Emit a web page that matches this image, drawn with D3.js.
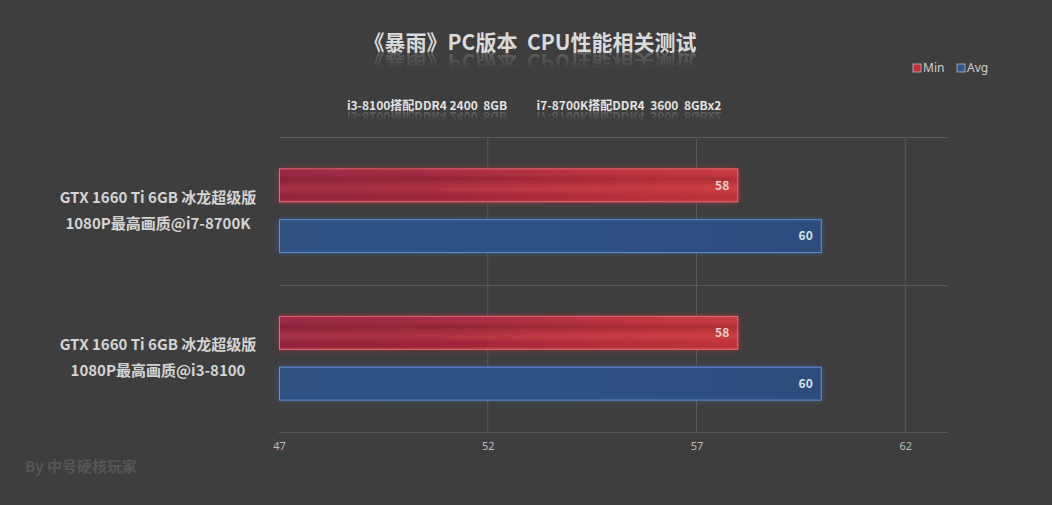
<!DOCTYPE html>
<html><head><meta charset="utf-8">
<script src="https://cdn.jsdelivr.net/npm/d3@7"></script>
<style>
html,body{margin:0;padding:0;background:#3e3e3e;}
svg{display:block;font-family:"Noto Sans CJK SC","Noto Sans",sans-serif;}
text{white-space:pre;}
</style></head>
<body>
<svg id="c" width="1052" height="505"></svg>
<script>
const categories = ["GTX 1660 Ti 6GB 冰龙超级版\n1080P最高画质@i7-8700K", "GTX 1660 Ti 6GB 冰龙超级版\n1080P最高画质@i3-8100"];
const seriesNames = ["Min", "Avg"];
const minValues = [58, 58];
const avgValues = [60, 60];
const xTicks = [47, 52, 57, 62];
const subtitles = ["i3-8100搭配DDR4 2400  8GB", "i7-8700K搭配DDR4  3600  8GBx2"];
const titleText = "《暴雨》PC版本  CPU性能相关测试";
const watermark = "By 中号硬核玩家";

const svg = d3.select("#c");
const W = 1052, H = 505;
const m = {left: 279, right: 105, top: 137, bottom: 73};
svg.append("rect").attr("width", W).attr("height", H).attr("fill", "#3e3e3e");

const defs = svg.append("defs");
const rg = defs.append("linearGradient").attr("id", "redG").attr("x1", 0).attr("x2", 1).attr("y1", 0).attr("y2", 0);
[["0%", "#9a2542"], ["35%", "#a5273f"], ["55%", "#b42c3f"], ["80%", "#c2323d"], ["100%", "#c8363c"]].forEach(s => rg.append("stop").attr("offset", s[0]).attr("stop-color", s[1]));
const rv = defs.append("linearGradient").attr("id", "redV").attr("x1", 0).attr("x2", 0).attr("y1", 0).attr("y2", 1);
[["0%", "#ffffff", 0.0], ["30%", "#000000", 0.12], ["60%", "#ff9070", 0.12], ["85%", "#000000", 0.05], ["100%", "#ff8060", 0.25]].forEach(s => rv.append("stop").attr("offset", s[0]).attr("stop-color", s[1]).attr("stop-opacity", s[2]));
const bg = defs.append("linearGradient").attr("id", "blueG").attr("x1", 0).attr("x2", 1).attr("y1", 0).attr("y2", 0);
[["0%", "#2f5283"], ["50%", "#2e5185"], ["100%", "#2c4c7c"]].forEach(s => bg.append("stop").attr("offset", s[0]).attr("stop-color", s[1]));
const glowR = defs.append("filter").attr("id", "glowR").attr("x", "-5%").attr("y", "-40%").attr("width", "110%").attr("height", "180%");
glowR.append("feGaussianBlur").attr("stdDeviation", 3);
const rf = defs.append("linearGradient").attr("id", "fade").attr("x1", 0).attr("x2", 0).attr("y1", 0).attr("y2", 1);
rf.append("stop").attr("offset", "0%").attr("stop-color", "#fff").attr("stop-opacity", 0.3);
rf.append("stop").attr("offset", "70%").attr("stop-color", "#fff").attr("stop-opacity", 0);
defs.append("mask").attr("id", "fadeMask").attr("maskContentUnits", "objectBoundingBox")
  .append("rect").attr("width", 1).attr("height", 1).attr("fill", "url(#fade)");

const x = d3.scaleLinear().domain([47, 63]).range([m.left, W - m.right]);
const y = d3.scaleBand().domain(categories).range([m.top, H - m.bottom]);
const ys = d3.scaleBand().domain(seriesNames).range([0, y.bandwidth()]).paddingInner(0.333).paddingOuter(0.618);

const g = svg.append("g");
g.selectAll("line.v").data(xTicks.slice(1)).join("line")
  .attr("x1", d => x(d)).attr("x2", d => x(d)).attr("y1", m.top).attr("y2", H - m.bottom)
  .attr("stroke", "#5a5a5a").attr("stroke-width", 1);
const hLines = [m.top, ...categories.map(c => y(c) + y.bandwidth())];
g.selectAll("line.h").data(hLines).join("line")
  .attr("x1", m.left).attr("x2", x(63)).attr("y1", d => Math.round(d) + 0.5).attr("y2", d => Math.round(d) + 0.5)
  .attr("stroke", "#5a5a5a").attr("stroke-width", 1);

const xAxis = d3.axisBottom(x).tickValues(xTicks).tickSize(0).tickPadding(10);
const ax = svg.append("g").attr("transform", `translate(0,${H - m.bottom})`).call(xAxis);
ax.select(".domain").remove();
ax.selectAll("text").attr("fill", "#bdbdbd").attr("font-size", 11).attr("font-family", "'Noto Sans','DejaVu Sans',sans-serif");

const rows = [];
categories.forEach((c, i) => {
  rows.push({cat: c, s: "Min", v: minValues[i]});
  rows.push({cat: c, s: "Avg", v: avgValues[i]});
});
const bars = svg.append("g");
rows.forEach(d => {
  const by = y(d.cat) + ys(d.s), bh = ys.bandwidth(), bx = x(47), bw = x(d.v) - x(47);
  const red = d.s === "Min";
  bars.append("rect").attr("x", bx).attr("y", by).attr("width", bw).attr("height", bh)
    .attr("fill", red ? "#d03040" : "#3a6cb0").attr("opacity", 0.55).attr("filter", "url(#glowR)");
  bars.append("rect").attr("x", bx).attr("y", by).attr("width", bw).attr("height", bh)
    .attr("fill", red ? "url(#redG)" : "url(#blueG)");
  if (red) {
    bars.append("rect").attr("x", bx).attr("y", by).attr("width", bw).attr("height", bh).attr("fill", "url(#redV)");
    [[0.25, 0.55, 0.42, 0.12], [0.35, 0.7, 0.62, 0.18], [0.05, 0.3, 0.3, 0.08]].forEach(s => {
      bars.append("rect").attr("x", bx + bw * s[0]).attr("y", by + bh * s[2]).attr("width", bw * (s[1] - s[0])).attr("height", 2)
        .attr("fill", "#ff8a70").attr("opacity", s[3]).attr("filter", "url(#glowR)");
    });
  }
  bars.append("rect").attr("x", bx + 0.5).attr("y", by + 0.5).attr("width", bw - 1).attr("height", bh - 1)
    .attr("fill", "none").attr("stroke", red ? "#e06a72" : "#5d8fd2").attr("stroke-width", 1);
  bars.append("text").attr("x", x(d.v) - 9).attr("y", by + bh / 2).attr("dy", "0.36em")
    .attr("text-anchor", "end").attr("font-size", 12).attr("font-weight", "bold")
    .attr("fill", red ? "#ecd0d0" : "#d8e0ea").text(d.v);
});

categories.forEach(c => {
  const lines = c.split("\n");
  const cy = y(c) + y.bandwidth() / 2 - 0.5;
  lines.forEach((t, i) => {
    svg.append("text").attr("x", 158).attr("y", cy + (i - 0.5) * 26).attr("dy", "0.35em")
      .attr("text-anchor", "middle").attr("font-size", 15).attr("font-weight", "bold")
      .attr("fill", "#d4d4d4").text(t);
  });
});

function reflected(txt, cx, cyBase, size, color, refOff) {
  svg.append("text").attr("x", cx).attr("y", cyBase).attr("text-anchor", "middle")
    .attr("font-size", size).attr("font-weight", "bold").attr("fill", color).text(txt);
  const rgp = svg.append("g").attr("mask", "url(#fadeMask)");
  rgp.append("text").attr("x", cx).attr("y", -(cyBase + refOff)).attr("transform", "scale(1,-1)")
    .attr("text-anchor", "middle").attr("font-size", size).attr("font-weight", "bold").attr("fill", color).text(txt);
}
reflected(titleText, 530, 50, 21, "#dadada", 4);
reflected(subtitles[0], 427, 110, 12, "#e2e2e2", 2);
reflected(subtitles[1], 629, 110, 12, "#e2e2e2", 2);

const leg = svg.append("g").attr("transform", "translate(913,63)");
[["Min", "#c0303c", 0], ["Avg", "#2f5790", 44]].forEach(l => {
  leg.append("rect").attr("x", l[2]).attr("y", 1).attr("width", 8).attr("height", 8)
    .attr("fill", l[1]).attr("stroke", "#bbbbbb").attr("stroke-width", 0.8);
  leg.append("text").attr("x", l[2] + 10).attr("y", 5).attr("dy", "0.36em").attr("font-size", 12)
    .attr("fill", "#cfcfcf").attr("font-family", "'Noto Sans','DejaVu Sans',sans-serif").text(l[0]);
});

svg.append("text").attr("x", 25).attr("y", 472).attr("font-size", 15).attr("font-weight", "bold")
  .attr("fill", "#555555").text(watermark);
</script>
</body></html>
